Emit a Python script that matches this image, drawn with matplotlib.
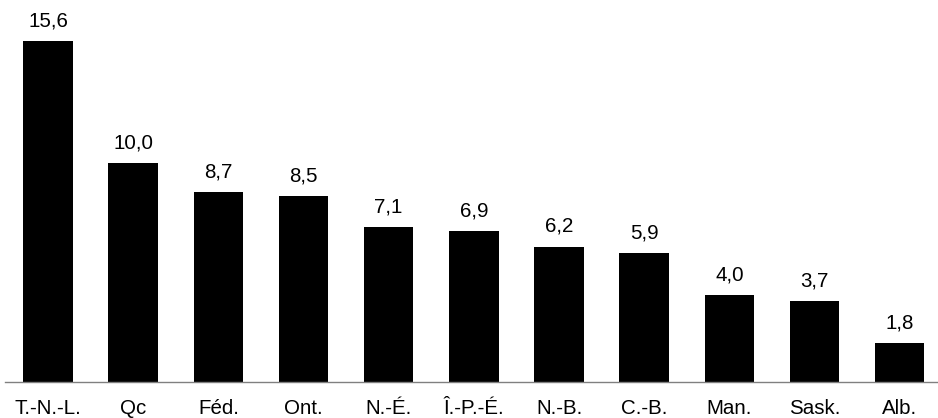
import matplotlib.pyplot as plt

# Provinces / federal, values as shown in the chart
labels = ["T.-N.-L.", "Qc", "Féd.", "Ont.", "N.-É.", "Î.-P.-É.",
          "N.-B.", "C.-B.", "Man.", "Sask.", "Alb."]
values = [15.6, 10.0, 8.7, 8.5, 7.1, 6.9, 6.2, 5.9, 4.0, 3.7, 1.8]

plt.rcParams['font.family'] = ['Liberation Sans', 'DejaVu Sans']

fig = plt.figure(figsize=(9.38, 4.18), dpi=100)
ax = fig.add_axes([5 / 938, 36 / 418, 933 / 938, 382 / 418])

x = range(len(values))
ax.bar(x, values, width=0.58, color='black')

for xi, v in zip(x, values):
    ax.annotate(f"{v:.1f}".replace('.', ','), (xi, v),
                xytext=(0, 10.5), textcoords='offset points',
                ha='center', va='baseline', fontsize=14.8)

ax.set_xlim(-0.505, 10.45)
ax.set_ylim(0, 17.48)

ax.set_xticks(list(x))
ax.set_xticklabels(labels, fontsize=14.8)
ax.tick_params(axis='x', length=0, pad=12.5)
ax.set_yticks([])

for side in ['top', 'right', 'left']:
    ax.spines[side].set_visible(False)
ax.spines['bottom'].set_color('#808080')
ax.spines['bottom'].set_linewidth(1.0)

fig.savefig("out.png", dpi=100)
